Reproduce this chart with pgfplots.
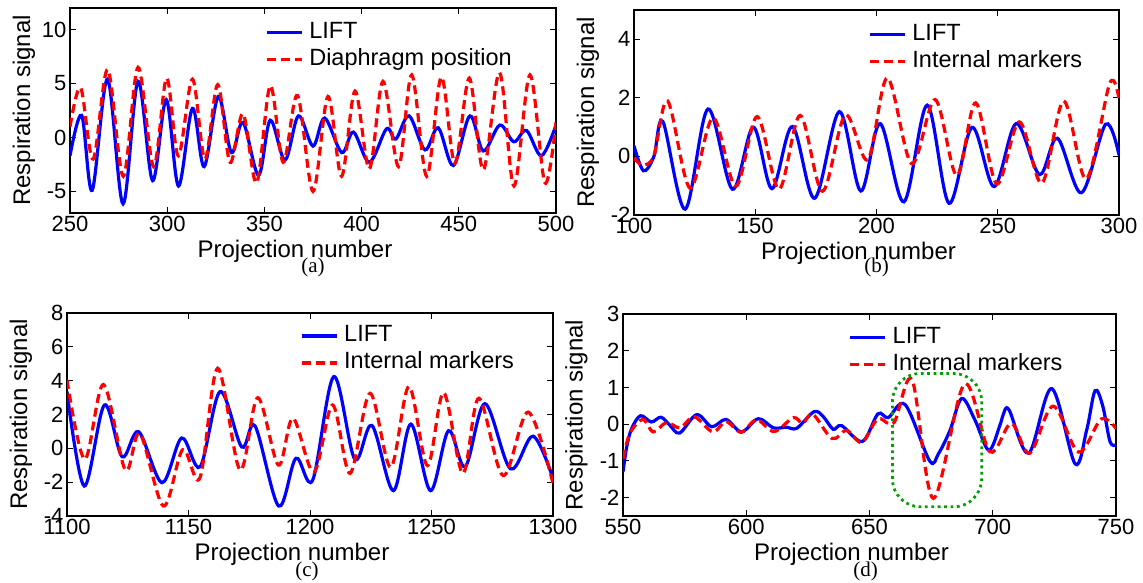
\documentclass[border=0pt]{standalone}
\usepackage{pgfplots}
\pgfplotsset{compat=1.18}
\usepackage{fontspec}
\setmainfont{Liberation Sans}
\newfontfamily\serifcap{Liberation Serif}
\definecolor{mblue}{RGB}{0,0,255}
\definecolor{mred}{RGB}{255,0,0}
\definecolor{mgreen}{RGB}{0,160,0}
\pgfplotsset{
  panel/.style={
    scale only axis,
    axis line style={line width=1.3pt},
    every tick/.style={line width=1pt, black},
    major tick length=6pt,
    tick align=inside,
    /pgf/number format/assume math mode=true,
    /pgf/number format/1000 sep={},
    tick label style={font=\fontsize{22}{24}\selectfont},
    label style={font=\fontsize{24}{26}\selectfont},
    xlabel={Projection number},
    ylabel={Respiration signal},
    xlabel style={at={(axis description cs:0.5,0)}, anchor=base, yshift=-45pt, xshift=-18pt},
    ylabel style={at={(axis description cs:-0.082,0.5)}, anchor=base},
    legend cell align=left,
    legend image code/.code={\draw[##1] (0pt,0pt) -- (35pt,0pt);},
    legend style={draw=none, fill=none, anchor=north west, inner sep=0pt,
      row sep=1pt, column sep=4pt, font=\fontsize{23.5}{26}\selectfont,
      nodes={inner sep=2pt, text height=17pt, text depth=5pt}},
  },
  subcaption/.style n args={3}{extra description/.code={%
    \node[anchor=base, inner sep=0pt, xshift=#2, yshift=#3] at (axis description cs:0.5,0)
      {\serifcap\fontsize{21}{23}\selectfont #1};}},
  lift/.style={mblue, line width=3.2pt, smooth, tension=0.55},
  ref/.style={mred, line width=3.2pt, dash pattern=on 9pt off 5pt, smooth, tension=0.55},
}
\begin{document}
\begin{tikzpicture}
\path[use as bounding box] (0pt,0pt) rectangle (1143pt,583pt);

% ---------------- (a)
\begin{axis}[panel, at={(70pt,370pt)}, anchor=south west, width=486pt, height=205pt,
  xmin=250, xmax=500, ymin=-7, ymax=12, xtick={250,300,...,500}, ytick={-5,0,5,10},
  subcaption={(a)}{0pt}{-60pt},
  legend style={at={(axis description cs:0.401,0.944)}}]
\addplot[lift] coordinates {(250,-1.7) (256,2.05) (261.4,-4.9) (269.3,5.4) (277.3,-6.15) (285,5.2) (292.5,-4.0) (299.5,3.5) (305.8,-4.5) (313,2.7) (319,-2.7) (326.3,3.8) (333,-1.4) (339,1.4) (347,-3.5) (353,1.6) (360.6,-2.1) (367.5,2.0) (375,-0.8) (381,1.8) (389.8,-1.4) (395.8,0.5) (404,-2.3) (412.8,0.8) (417.6,-0.15) (424.4,2.0) (432.6,-1.15) (439.4,0.9) (447.2,-2.6) (455.7,2.0) (462.6,-1.25) (471.1,1.15) (478.3,-0.4) (484.8,0.65) (492.5,-1.7) (500,1.15)};
\addlegendentry{LIFT}
\addplot[ref] coordinates {(250,1.0) (255.5,4.6) (261.9,-2.0) (269.4,6.3) (277.4,-3.6) (285,6.5) (293,-2.7) (299.7,5.5) (305.7,-1.7) (313,5.4) (319.4,-2.0) (326,4.9) (332.3,-2.3) (339,2.2) (346,-4.2) (353,4.8) (359.7,-2.3) (367,3.9) (375,-5.0) (382.7,3.8) (389.7,-3.6) (396.6,4.3) (404,-2.9) (411,5.2) (419,-2.7) (425.8,5.8) (433.5,-3.6) (441,5.6) (448,-2.4) (455.4,5.5) (462.6,-3.0) (471,6.0) (478.4,-4.5) (486.6,5.8) (494.3,-4.2) (500,1.4)};
\addlegendentry{Diaphragm position}
\end{axis}

% ---------------- (b)
\begin{axis}[panel, at={(634pt,368pt)}, anchor=south west, width=485pt, height=205pt,
  xmin=100, xmax=300, ymin=-2, ymax=5, xtick={100,150,...,300}, ytick={-2,0,2,4},
  subcaption={(b)}{0pt}{-58pt},
  legend style={at={(axis description cs:0.4825,0.946)}}]
\addplot[lift] coordinates {(100,0.36) (103.9,-0.49) (108.2,0.0) (111.9,1.19) (121.1,-1.8) (130.5,1.62) (140.6,-1.12) (149.2,1.0) (156.9,-1.1) (165.3,1.02) (174.5,-1.43) (184.7,1.53) (193.5,-1.18) (201.5,1.12) (211.3,-1.55) (220.9,1.75) (229.9,-1.6) (239.4,0.99) (248.5,-1.03) (257.6,1.12) (267.2,-0.62) (274.6,0.62) (284.5,-1.24) (294.5,1.1) (300,0.05)};
\addlegendentry{LIFT}
\addplot[ref] coordinates {(100,-0.05) (103.5,-0.29) (108.2,0.02) (113.9,1.89) (123.1,-1.08) (132.6,1.32) (142,-1.02) (150.8,1.36) (159.8,-1.12) (168.5,1.4) (177.7,-1.19) (187.1,1.41) (196.4,-0.11) (204.5,2.68) (214.5,-0.25) (224.2,1.94) (233.1,-0.65) (240.9,1.83) (249.6,-0.94) (258.9,1.18) (268.2,-0.91) (277.2,1.89) (286.5,-0.77) (296.2,2.5) (300,1.96)};
\addlegendentry{Internal markers}
\end{axis}

% ---------------- (c)
\begin{axis}[panel, at={(67pt,67pt)}, anchor=south west, width=486pt, height=203pt,
  xmin=1100, xmax=1300, ymin=-4, ymax=8, xtick={1100,1150,...,1300}, ytick={-4,-2,...,8},
  subcaption={(c)}{-3pt}{-61pt},
  legend style={at={(axis description cs:0.479,0.952)}}]
\addplot[lift] coordinates {(1100,3.35) (1107.1,-2.23) (1115.4,2.56) (1122.7,-0.5) (1129.5,0.98) (1139.1,-2.03) (1147.2,0.61) (1154.8,-1.09) (1163,3.35) (1171.9,0.08) (1177.4,1.32) (1187.1,-3.41) (1194.2,-0.59) (1201.1,-1.88) (1209.8,4.24) (1218.4,-0.64) (1225.5,1.35) (1234.3,-2.5) (1241.5,1.43) (1249.6,-2.5) (1257,1.04) (1263.9,-1.09) (1272,2.64) (1282.5,-1.21) (1291.8,0.72) (1300,-1.78)};
\addlegendentry{LIFT}
\addplot[ref] coordinates {(1100,4.04) (1107.3,-0.65) (1115,3.77) (1124,-1.28) (1130,0.87) (1139.7,-3.41) (1147.6,-0.08) (1154.7,-1.75) (1162,4.73) (1171.2,-1.28) (1178.5,2.99) (1187,-0.99) (1193,1.78) (1201.6,-1.41) (1209.3,2.56) (1216.5,-1.48) (1224.7,3.25) (1233.2,-1.12) (1240.7,3.65) (1248.3,-1.02) (1255,3.29) (1262.9,-1.48) (1269.5,2.96) (1279.5,-1.61) (1289.8,2.14) (1300,-2.07)};
\addlegendentry{Internal markers}
\end{axis}

% ---------------- (d)
\begin{axis}[panel, at={(623pt,67pt)}, anchor=south west, width=493pt, height=202pt,
  xmin=550, xmax=750, ymin=-2.5, ymax=3, xtick={550,600,...,750}, ytick={-2,-1,...,3},
  subcaption={(d)}{-4pt}{-61pt},
  legend style={at={(axis description cs:0.457,0.9485)}}]
\addplot[lift] coordinates {(550,-1.3) (551.5,-0.62) (553.5,-0.12) (557.1,0.23) (561.5,0.06) (565.4,0.19) (569,-0.03) (573,-0.24) (579.9,0.26) (586,-0.07) (591.8,0.13) (598.1,-0.21) (604.9,0.15) (611,-0.1) (616.4,-0.08) (620.5,-0.11) (627.5,0.34) (631.3,0.2) (635.3,-0.14) (638.7,-0.04) (647.1,-0.47) (653.4,0.28) (657.6,0.18) (664.5,0.53) (674.4,-1.0) (678,-0.8) (682.7,-0.16) (687.4,0.7) (692.8,0.11) (698.4,-0.71) (702.9,-0.03) (704.3,0.27) (706.6,0.39) (714.6,-0.79) (723.9,0.97) (733.4,-1.08) (738.1,-0.16) (741.5,0.91) (744.6,0.5) (747.6,-0.48) (750,-0.56)};
\addlegendentry{LIFT}
\addplot[ref] coordinates {(550,-0.94) (552.8,-0.25) (558,0.13) (562.3,-0.21) (567.7,0.05) (573.1,-0.1) (578.9,0.2) (586.4,-0.21) (591.8,0.07) (597.9,-0.22) (604.2,0.12) (611.3,-0.2) (619.1,0.18) (622.9,0.02) (627,0.27) (634.8,-0.39) (640.7,-0.17) (646.8,-0.5) (652.2,0.06) (654.5,0.15) (660,0.05) (667.3,1.2) (675.9,-2.02) (688.5,1.09) (698.8,-0.75) (707.5,0.02) (715,-0.79) (724.5,0.49) (734.8,-0.76) (744,0.14) (750,-0.12)};
\addlegendentry{Internal markers}
\draw[mgreen, line width=2.8pt, dash pattern=on 2.8pt off 3.6pt, rounded corners=28pt]
  (axis cs:659.3,-2.25) rectangle (axis cs:695.5,1.38);
\end{axis}
\end{tikzpicture}
\end{document}
